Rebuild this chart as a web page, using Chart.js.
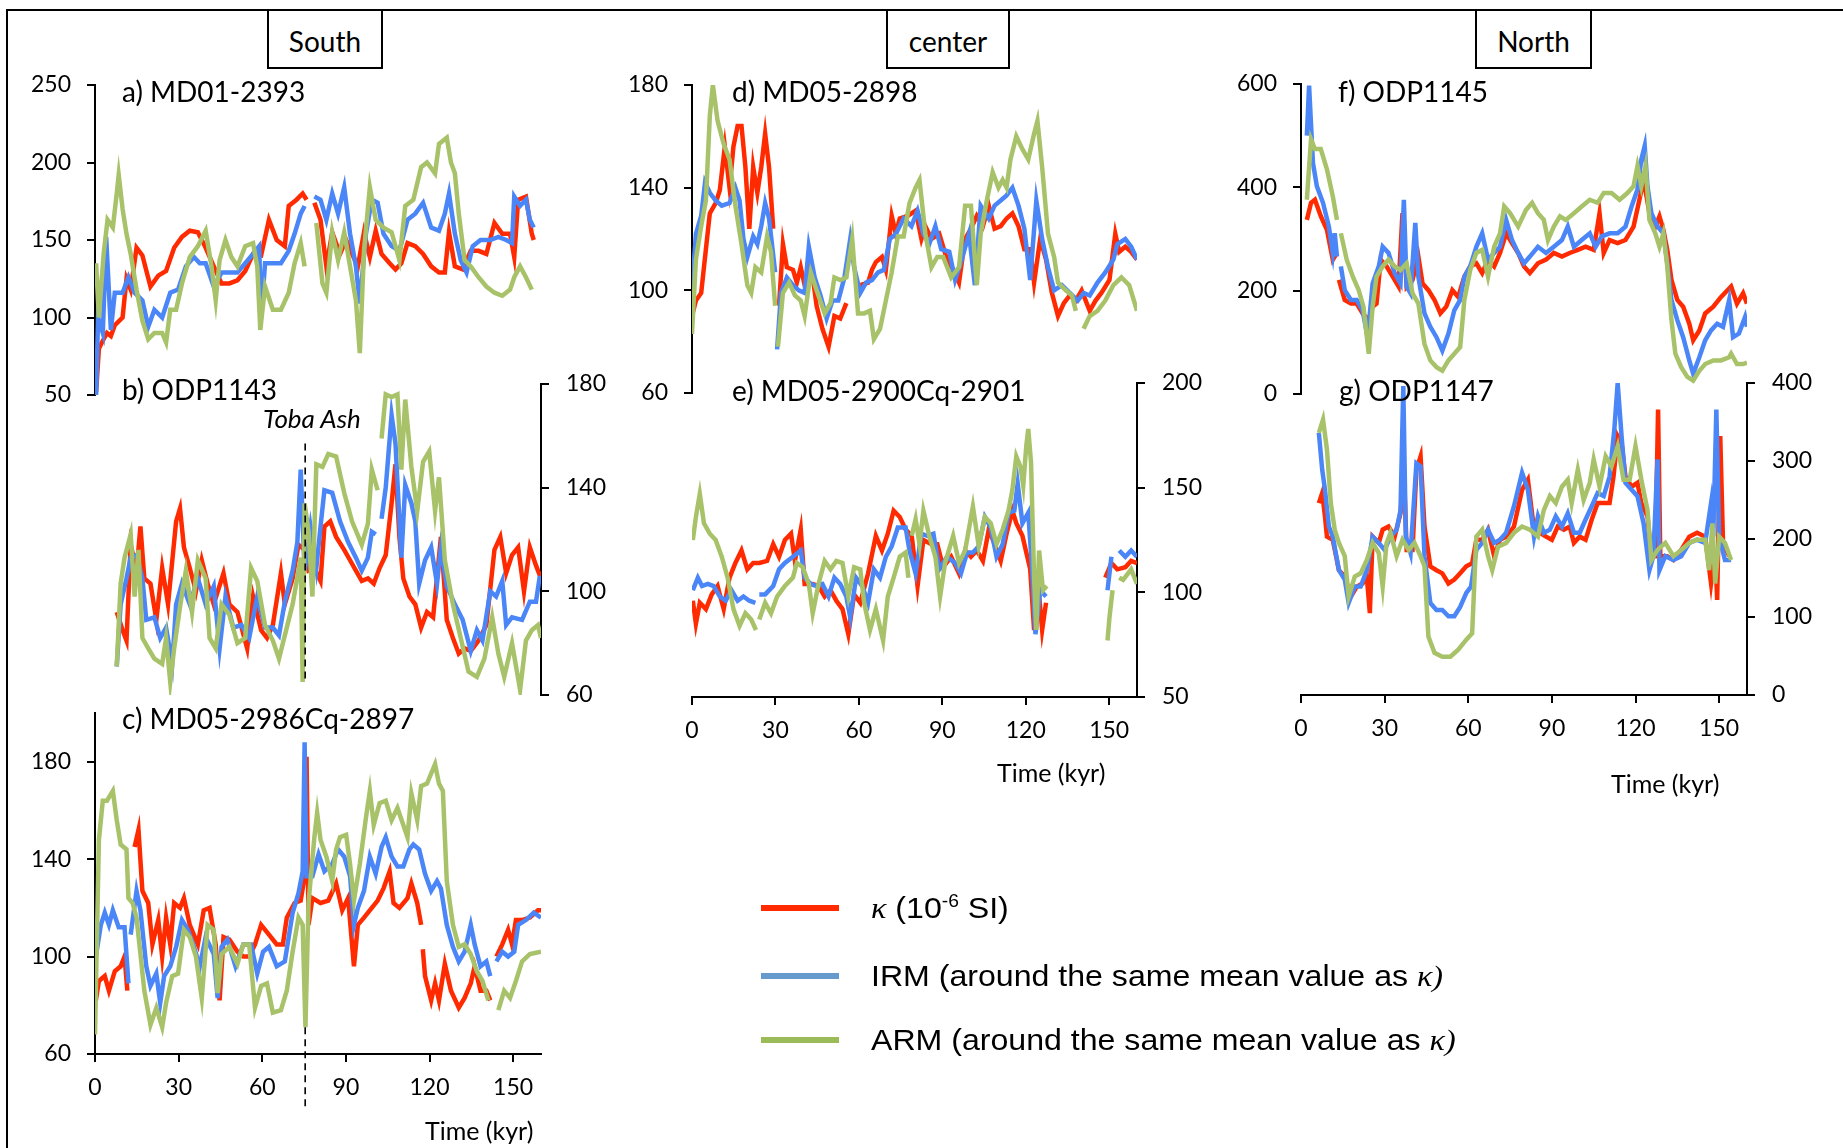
<!DOCTYPE html>
<html lang="en">
<head>
<meta charset="UTF-8">
<title>Magnetic records: South, center, North</title>
<script src="https://cdn.jsdelivr.net/npm/chart.js"></script>
<style>
    body { margin: 0; background: #fff; width: 1843px; height: 1148px; overflow: hidden; position: relative; font-family: Lato, 'Open Sans', sans-serif; color: #000; }
    canvas { position: absolute; left: 0; top: 0; }
    .frame { position: absolute; left: 6px; top: 9px; width: 1900px; height: 1200px; border: 2px solid #000; box-sizing: border-box; }
    .region { position: absolute; top: 9px; height: 60px; border: 2px solid #000; box-sizing: border-box; font-size: 28px; display: flex; align-items: center; justify-content: center; background: #fff; padding-top: 4px; }
    .lbl { position: absolute; white-space: nowrap; line-height: 1; transform: translateY(-50%); }
    .title { font-size: 28px; }
    .axis-title { font-size: 25px; }
    .toba { font-size: 26px; font-style: italic; }
    .legend-row { position: absolute; left: 761px; height: 0; }
    .legend-row .sw { position: absolute; left: 0; top: -3px; width: 78px; height: 6px; }
    .legend-row .txt { position: absolute; left: 110px; top: 0; transform: translateY(-50%) scaleX(1.07); transform-origin: left center; white-space: nowrap; font-size: 30px; line-height: 1; font-family: 'Liberation Sans', Arial, sans-serif; }
    .k { font-family: 'Liberation Serif', serif; font-style: italic; }
    sup { font-size: 60%; vertical-align: 0.6em; line-height: 0; }
</style>
</head>
<body>
<div class="frame"></div>

<div class="region" style="left:267px;width:116px">South</div>
<div class="region" style="left:886px;width:124px">center</div>
<div class="region" style="left:1475px;width:117px">North</div>

<canvas id="pa" width="1843" height="1148"></canvas>
<canvas id="pb" width="1843" height="1148"></canvas>
<canvas id="pc" width="1843" height="1148"></canvas>
<canvas id="pd" width="1843" height="1148"></canvas>
<canvas id="pe" width="1843" height="1148"></canvas>
<canvas id="pf" width="1843" height="1148"></canvas>
<canvas id="pg" width="1843" height="1148"></canvas>

<div class="lbl title" style="left:122px;top:91px">a) MD01-2393</div>
<div class="lbl title" style="left:122px;top:389px">b) ODP1143</div>
<div class="lbl title" style="left:122px;top:718px">c) MD05-2986Cq-2897</div>
<div class="lbl title" style="left:732px;top:91px">d) MD05-2898</div>
<div class="lbl title" style="left:732px;top:390px">e) MD05-2900Cq-2901</div>
<div class="lbl title" style="left:1338px;top:91px">f) ODP1145</div>
<div class="lbl title" style="left:1339px;top:390px">g) ODP1147</div>
<div class="lbl toba" style="left:263px;top:418px">Toba Ash</div>
<div class="lbl axis-title" style="left:425px;top:1130px">Time (kyr)</div>
<div class="lbl axis-title" style="left:997px;top:772px">Time (kyr)</div>
<div class="lbl axis-title" style="left:1611px;top:783px">Time (kyr)</div>

<div class="legend-row" style="top:908px"><div class="sw" style="background:#ff2a00"></div><div class="txt"><span class="k">κ</span> (10<sup>-6</sup> SI)</div></div>
<div class="legend-row" style="top:976px"><div class="sw" style="background:#6699cc"></div><div class="txt">IRM (around the same mean value as <span class="k">κ)</span></div></div>
<div class="legend-row" style="top:1040px"><div class="sw" style="background:#9bbb59"></div><div class="txt">ARM (around the same mean value as <span class="k">κ)</span></div></div>

<script>
// ---- data: [time kyr, value], null = gap ----
const xTicks = [0, 30, 60, 90, 120, 150];

// a) MD01-2393
const aK = [[0.4,52],[1.4,80],[2.8,85],[4.3,90],[5.7,88],[7.1,95],[9.9,100],[11.3,125],[12.8,118],[14.9,145],[17,140],[19.9,120],[22.7,127],[25.5,130],[28.4,145],[31.2,152],[34,156],[36.9,155],[39.7,145],[42.6,133],[45.4,122],[48.2,122],[51.1,124],[53.9,130],[56.7,141],[59.6,140],[62.4,163],[65.2,150],[68.1,146],[69.5,172],[72.3,176],[74.5,180],[75.9,176],[77,null],[78.7,174],[80.9,163],[83,133],[85.1,155],[87.9,141],[90.1,150],[92.2,141],[94.3,133],[96.5,155],[98.6,139],[100.7,156],[102.8,141],[105.7,135],[107.8,131],[109.9,135],[112.1,148],[114.9,146],[117.7,141],[120.6,133],[123.4,129],[125.5,129],[127,155],[129.1,133],[131.9,131],[134.8,143],[137.6,143],[140.4,141],[143.3,161],[146.1,154],[148.9,154],[150.4,139],[151.8,176],[154.6,178],[156.7,154],[157.4,150]];
const aI = [[0.4,50],[1.1,100],[2.8,90],[4,152],[5.7,92],[7.1,116],[9.9,116],[12,126],[14.2,116],[17,111],[19.1,94],[21.3,105],[24.1,100],[27,116],[29.8,118],[32.6,133],[35.5,139],[37.6,135],[39.7,135],[42.6,120],[45.4,129],[48.2,129],[51.1,129],[53.9,135],[56.7,141],[58.9,146],[59.6,100],[61,135],[63.8,135],[66.7,135],[69.5,143],[71.6,154],[73.8,167],[75.2,172],[77,null],[78.7,178],[80.9,176],[83,163],[85.1,180],[87.2,167],[89.4,184],[91.5,154],[93.6,133],[95,109],[97.2,154],[99.3,176],[101.4,174],[103.5,154],[106.4,146],[109.2,143],[112.1,163],[114.9,167],[117.7,174],[120.6,158],[123.4,156],[125.5,167],[127,180],[129.1,154],[131.2,137],[133.3,129],[135.5,146],[138.3,150],[141.8,150],[144.7,152],[147.5,150],[149.6,148],[150.4,178],[152.5,172],[154.6,176],[156,163],[157.4,158]];
const aA = [[0.4,135],[1.4,100],[3.1,141],[4.5,163],[6.4,158],[7.8,180],[8.5,192],[9.9,170],[11.3,154],[12.8,141],[14.9,118],[17,98],[19.1,86],[21.3,90],[24.1,90],[25.5,84],[27,105],[29.1,105],[31.2,122],[34,139],[36.9,146],[39.7,156],[41.8,133],[43.3,111],[44.7,137],[46.8,150],[48.9,139],[51.1,133],[53.9,146],[56.7,148],[58.2,133],[59.3,92],[61,120],[63.8,105],[66.7,105],[69.5,116],[71.6,135],[73.8,148],[75.2,133],[77,null],[79.4,161],[81.6,122],[83,116],[85.1,155],[87.2,137],[89.4,155],[91.5,133],[93.6,111],[95,77],[96.5,143],[98.6,184],[100.7,163],[103.5,158],[106.4,155],[109.2,137],[111.3,172],[114.2,176],[117,197],[119.1,200],[122,193],[123.4,212],[126.2,216],[127.7,200],[129.1,193],[130.5,167],[132.6,137],[134.8,133],[137.6,126],[140.4,120],[143.3,116],[146.1,114],[148.9,118],[150.4,126],[152.5,133],[154.6,126],[156.7,118]];

// b) ODP1143
const bK = [[7.8,92],[9.9,85],[11.3,81],[12.8,118],[14.9,108],[16.3,125],[17.7,105],[19.9,103],[22,89],[24.1,109],[26.2,95],[29.1,127],[30.5,132],[31.9,117],[34,109],[36.2,100],[38.3,112],[40.4,103],[42.6,95],[46.1,107],[48.2,95],[51.1,92],[54.6,78],[56.7,98],[59.6,85],[61.7,82],[63.8,87],[66.7,107],[68.1,95],[70.9,105],[73,118],[75.2,116],[76.6,108],[78.7,109],[80.9,104],[82.3,125],[84.4,127],[86.5,121],[89.4,116],[91.5,112],[93.6,108],[95.7,104],[97.9,105],[100,103],[102.1,109],[104.3,114],[106.4,134],[107.8,149],[109.2,121],[110.6,105],[112.8,98],[114.9,95],[117,86],[119.1,92],[121.3,90],[124.1,121],[126.2,89],[128.4,82],[130.5,76],[132.6,78],[134.8,77],[137.6,81],[140.4,87],[143.3,116],[145.4,121],[147.5,107],[149.6,114],[151.8,117],[153.9,100],[156,117],[158.2,110],[160,105]];
const bI = [[7.8,71],[9.2,95],[11.3,105],[12.8,113],[14.9,114],[17,105],[18.4,89],[21.3,90],[23.4,82],[25.5,86],[27.7,72],[29.1,95],[31.2,103],[34,95],[36.9,105],[39.7,95],[42.6,102],[44.7,78],[46.8,98],[49.6,86],[52.5,87],[55.3,82],[58.2,98],[61,86],[63.8,86],[66,83],[68.1,96],[70.9,108],[72.6,119],[73.8,147],[75.2,108],[77.3,125],[79.4,109],[81.1,127],[82.3,139],[85.1,138],[87.9,127],[90.8,119],[93.6,113],[95.7,108],[97.9,113],[99.3,123],[100.7,122],[101.8,null],[102.8,128],[104.3,140],[106.4,168],[107.8,157],[109.9,113],[111.3,141],[113.5,134],[114.9,127],[116.3,103],[118.4,112],[120.6,117],[122.7,103],[124.1,117],[126.2,102],[129.1,95],[131.9,89],[134.8,77],[137,85],[139,81],[141.8,100],[143.9,98],[146.1,104],[147.5,87],[149.6,90],[153.2,89],[156,96],[158.2,96],[159.6,106]];
const bA = [[7.8,71],[9.2,103],[10.6,113],[12.8,122],[14.2,98],[15.6,116],[17,82],[19.1,78],[21.3,74],[24.1,72],[25.5,82],[27,65],[28.4,78],[30.5,94],[32.6,108],[34.8,92],[36.9,112],[39.7,105],[41.1,82],[43.3,78],[45.4,95],[48.2,91],[51.1,80],[53.9,82],[56,109],[58.2,104],[61,87],[63.8,81],[66,74],[68.1,83],[70.9,95],[73.8,113],[74.5,65],[75.2,134],[76.6,123],[78,98],[79.4,149],[81.6,148],[83.7,153],[86.5,152],[89.4,138],[92.2,127],[95.7,118],[97.9,126],[99.3,147],[101.4,139],[102.1,null],[102.8,159],[104.3,176],[106.4,175],[108.5,176],[109.9,147],[111.3,174],[113.5,148],[115.6,131],[117.7,150],[119.9,154],[122,131],[123.4,144],[125.5,112],[128.4,95],[131.2,82],[134,69],[137,67],[139.7,74],[142.5,90],[144.7,76],[146.8,67],[149.6,80],[152.5,62],[154.6,81],[156.7,85],[158.9,87],[160,82]];

// c) MD05-2986Cq-2897
const cK = [[0.3,82],[1.4,90],[3.5,92],[5,86],[7.1,94],[9.2,96],[10.6,100],[11.6,86],[12.5,null],[14.2,145],[15.6,152],[17,127],[19.1,122],[20.6,105],[22.7,115],[24.1,100],[25.5,116],[27,105],[28.4,122],[30.5,120],[31.9,124],[34,113],[36.9,105],[39,119],[41.1,120],[43.3,105],[44.7,82],[46.1,108],[48.2,107],[51.1,102],[53.2,100],[55.3,100],[57.4,105],[59.6,113],[62.4,109],[65.2,105],[67.4,105],[68.8,116],[71.6,122],[73.8,123],[75.2,133],[75.9,182],[76.6,113],[78,124],[80.9,122],[83.7,123],[86.5,130],[88.7,119],[90.8,124],[92.9,96],[94.3,113],[96.5,116],[99.3,120],[101.4,123],[103.5,128],[105.7,135],[107.1,122],[109.2,120],[112.1,124],[113.5,130],[115.6,122],[117,113],[117.3,null],[117.6,103],[118.4,92],[120.6,82],[122,89],[123.4,82],[125.5,97],[127.7,86],[130.5,79],[132.6,83],[134.8,89],[136.2,96],[138.3,86],[140.4,86],[141.8,82],[143,null],[144,100],[146.1,105],[148.2,111],[149.6,105],[151,115],[153.2,115],[156,116],[158.9,119],[160,119]];
const cI = [[0.3,100],[2.1,113],[3.5,118],[5,113],[6.4,119],[8.5,112],[10.6,112],[12,89],[12.4,null],[12.8,109],[14.9,127],[16.3,119],[18.4,96],[19.9,88],[22,93],[23.4,81],[24.8,92],[27,96],[29.1,104],[31.2,115],[33.3,111],[35.5,104],[37.6,96],[39.7,108],[42.6,101],[44,83],[45.4,104],[47.5,107],[50.4,96],[53.2,105],[56,105],[58.2,93],[60.3,102],[62.4,104],[65.2,96],[68.1,98],[70.9,118],[73,126],[74.5,135],[75.2,188],[75.9,133],[78,133],[80.2,142],[82.3,135],[85.1,138],[87.2,144],[89.4,141],[91.5,133],[92.9,113],[94.3,120],[96.5,127],[98.6,141],[100.7,134],[102.8,145],[104.3,149],[106.4,141],[108.5,137],[110.6,137],[112.8,144],[114.2,146],[116.3,144],[118.4,134],[120.6,127],[122.7,131],[124.1,128],[126.2,113],[128.4,104],[130.5,98],[132.6,102],[134.8,113],[136.2,105],[138.3,96],[140.4,98],[141.8,92],[143,null],[144,98],[146.1,102],[148.2,100],[150.4,102],[151.8,113],[154.6,115],[157.4,118],[160,116]];
const cA = [[0,68],[1.4,148],[2.8,164],[4.3,164],[6.4,168],[7.8,156],[9.2,146],[11.3,144],[12,124],[13.5,122],[14.9,116],[16.3,101],[17.7,86],[19.9,72],[22,79],[24.1,71],[25.5,81],[27.7,92],[29.8,93],[31.9,111],[34,108],[36.2,100],[38.3,83],[40.4,113],[42.6,111],[44,85],[45.4,101],[48.2,104],[51.1,97],[53.2,105],[55.3,105],[57.4,79],[59.6,88],[61.7,89],[63.8,77],[66.7,78],[68.8,86],[70.9,102],[73,116],[74.5,113],[75.5,71],[76.6,122],[78.7,149],[79.7,159],[80.9,148],[83,141],[85.1,131],[86.5,144],[87.9,149],[90.1,150],[91.5,138],[92.9,123],[95,138],[97.2,157],[98.6,168],[100,154],[102.1,163],[104.3,164],[106.4,156],[108.5,161],[110.6,154],[112.1,149],[113.5,167],[115.6,156],[117,170],[119.1,171],[122,179],[123.4,171],[124.8,168],[126.2,131],[128.4,113],[130.5,104],[132.6,105],[134.8,101],[137,94],[139,90],[141.1,82],[143,null],[144.7,78],[146.8,86],[148.9,83],[151,90],[153.2,98],[156,101],[160,102]];

// d) MD05-2898
const dK = [[0,90],[1.4,96],[3.3,99],[5,116],[6.4,130],[8.5,134],[10,139],[11.8,156],[13.5,140],[14.9,156],[16.4,164],[17.8,164],[19.2,148],[20.6,124],[22,148],[23.5,138],[24.9,148],[26.3,161],[27.7,148],[29.2,124],[30.2,null],[31.3,94],[32.7,118],[34.1,109],[36.3,108],[37.7,103],[39.1,109],[40.5,102],[42.7,111],[44.8,94],[46.9,85],[49.1,78],[51.2,90],[53.3,89],[55.5,95],[58,null],[60.5,102],[63.3,103],[64.7,108],[66.1,111],[68.3,113],[69.7,108],[71.8,129],[73.3,122],[74.7,128],[77.5,129],[80.4,131],[82.5,120],[83.9,125],[86.1,120],[88.9,122],[91.7,112],[93.9,108],[96,103],[98.2,120],[100.3,124],[102.4,129],[104.6,125],[106.7,133],[108.8,124],[111,125],[113.1,128],[115.2,130],[117.4,125],[119.5,116],[121.6,116],[123,103],[125.2,120],[127.3,112],[129.4,99],[131.6,90],[133.7,95],[135.8,98],[138,96],[140.1,100],[143,92],[145.1,96],[147.2,99],[150.1,104],[152.2,122],[153.6,115],[155.8,117],[157.9,115],[160,112]];
const dI = [[0,100],[1.4,122],[3.3,129],[4.7,142],[6.4,138],[8.5,135],[10.7,133],[13.5,134],[15.6,140],[17.1,135],[18.5,120],[19.9,113],[22,121],[23.5,118],[24.9,125],[26.3,134],[27.7,128],[29.9,107],[30.2,null],[30.6,77],[32,99],[34.1,105],[36.3,102],[38.4,100],[40.5,99],[42,117],[44.1,105],[46.2,98],[48.4,89],[50.5,96],[52.6,96],[54.8,105],[56.9,120],[58.3,109],[60.5,99],[62.6,103],[64.7,104],[66.9,107],[69,108],[71.1,120],[73.3,122],[76.1,128],[78.9,125],[81.1,131],[83.2,122],[85.3,118],[87.5,125],[89.6,116],[92.5,115],[94.6,104],[96.7,111],[99.6,122],[101.7,102],[103.8,133],[106.7,128],[108.8,133],[111,135],[113.1,137],[115.2,140],[117.4,133],[119.5,124],[121.6,104],[123.8,135],[125.9,120],[128,109],[130.2,100],[133,102],[135.8,99],[138.7,96],[140.8,99],[143,98],[145.8,103],[148.6,107],[151.5,112],[152.9,118],[155.8,120],[157.9,117],[160,112]];
const dA = [[0,83],[1.4,112],[3.3,125],[5,135],[6.4,168],[7.5,180],[9.2,166],[11.4,157],[13.5,151],[15.6,133],[17.8,118],[19.9,102],[21.3,99],[22.8,109],[24.9,107],[27,121],[28.4,115],[29.9,94],[30.4,null],[30.9,78],[32.7,99],[34.9,103],[37,98],[39.1,96],[40.5,90],[42.7,107],[44.8,100],[47.7,91],[49.8,95],[51.2,105],[53.3,104],[55.5,105],[57.6,120],[59.7,91],[61.9,91],[64,92],[65.4,81],[67.6,85],[69.7,96],[71.8,107],[74,121],[76.1,121],[78.2,134],[80.4,140],[81.8,143],[83.9,122],[86.1,109],[88.2,113],[90.3,113],[93.2,105],[96,109],[98.2,133],[100.3,133],[102.4,102],[103.8,122],[106,135],[108.1,146],[110.2,140],[111.7,143],[113.1,140],[114.5,151],[116.6,160],[118.8,155],[120.9,151],[123,161],[124.2,166],[125.9,148],[128,122],[130.2,113],[131.6,103],[134.4,100],[136.6,98],[138,92],[139.4,null],[140.8,85],[143,90],[145.8,92],[148.6,96],[151.5,102],[154.4,105],[157.2,102],[160,92]];

// e) MD05-2900Cq-2901
const eK = [[0.3,96],[1.4,85],[2.8,95],[5,92],[7.1,99],[9.2,103],[11.4,92],[13.5,107],[15.6,114],[17.8,120],[19.9,111],[22,114],[24.2,114],[27,115],[29.2,123],[31.3,117],[33.4,125],[35.6,128],[37,115],[39.1,130],[40.5,104],[43.4,104],[45.5,103],[47.7,98],[49.8,101],[51.9,96],[54.1,92],[56.2,80],[58.3,99],[60.5,95],[63.3,109],[66.1,127],[68.3,120],[70.4,128],[72.5,139],[74.7,136],[76.8,130],[79,127],[81.1,103],[83.2,125],[86.1,123],[88.2,123],[90.3,112],[93.2,117],[96,109],[98.2,120],[100.3,117],[102.4,120],[104.6,115],[106.7,130],[108.8,123],[111,115],[113.1,128],[115.2,139],[116.6,133],[118.8,127],[121.6,111],[123,82],[124.5,103],[125.9,82],[127.3,95],[138,null],[148.6,107],[150.8,114],[152.9,111],[155.8,112],[157.9,115],[160,114]];
const eI = [[0.3,101],[2.1,107],[3.6,103],[5.7,104],[7.8,103],[10,98],[12.1,96],[14.2,101],[16.4,96],[18.5,98],[20.6,96],[22.8,95],[23.5,null],[24.2,99],[26.3,99],[29.2,103],[31.3,111],[33.4,114],[36.3,117],[39.1,120],[40.5,107],[42.7,104],[44.8,103],[46.9,104],[49.1,98],[51.2,107],[53.3,104],[55.5,98],[56.9,88],[59,107],[61.2,103],[63.3,95],[65.4,111],[67.6,107],[69.7,117],[71.8,122],[74,131],[76.8,131],[78.2,120],[80.4,109],[82.5,128],[84.6,127],[86.8,128],[88.9,111],[91.7,117],[94.6,114],[96.7,109],[98.9,119],[101,119],[103.1,122],[105.3,136],[107.4,131],[109.5,117],[111.7,123],[113.8,138],[115.9,139],[117.1,152],[118.8,133],[120.9,138],[122.3,111],[123.5,80],[125.2,101],[127.3,98],[138,null],[149.4,101],[150.8,117],[152,null],[153.6,120],[155.8,117],[157.9,120],[160,117]];
const eA = [[0.3,125],[1.4,136],[2.8,147],[4.3,133],[6.4,128],[8.5,125],[10.7,117],[12.8,107],[14.9,92],[17.1,84],[19.2,90],[21.3,87],[23,82],[23.6,null],[24.2,87],[26.3,95],[28.4,90],[30.6,98],[33.4,103],[36.3,107],[37.7,114],[39.8,112],[42,104],[43.4,90],[45.5,104],[47.7,115],[49.8,111],[51.9,115],[54.1,114],[56.2,98],[58.3,112],[60.5,111],[61.9,95],[64,82],[66.1,92],[68.7,77],[70.4,98],[72.5,107],[74.7,117],[76.8,119],[77.8,107],[78.4,null],[79,127],[80.4,135],[81.8,123],[83.2,139],[85.3,127],[87.5,117],[89.2,98],[91,114],[93.9,127],[96,114],[98.2,120],[101,141],[103.1,122],[105.3,136],[107.4,133],[109.5,123],[111.7,130],[113.8,139],[115.2,149],[116.6,165],[118.1,160],[119.1,151],[120.2,170],[120.9,178],[121.9,162],[123,107],[123.8,82],[124.8,120],[126.2,101],[127.6,103],[138,null],[149.4,77],[150.1,88],[151.2,101],[152.4,null],[153.6,107],[155,106],[157.9,111],[160,104]];

// f) ODP1145
const fK = [[2.1,337],[3.6,370],[5,376],[7.1,344],[9.3,318],[11.4,260],[12.9,273],[13.2,null],[13.6,221],[15.7,182],[17.9,175],[20,175],[22.1,156],[24.3,143],[25.7,169],[27.1,175],[28.6,260],[30.7,247],[32.9,227],[35,208],[36.4,350],[37.9,208],[40,221],[42.1,266],[43.6,214],[45.7,201],[47.9,182],[50,156],[52.1,169],[54.3,201],[56.4,188],[58.6,227],[60.7,247],[62.9,253],[65,234],[67.1,260],[69.3,247],[71.4,273],[73.6,311],[75.7,292],[77.9,273],[80,247],[82.1,234],[85,253],[87.9,260],[90.7,273],[93.6,266],[96.4,273],[99.3,279],[102.1,285],[105,279],[107.1,350],[108.6,273],[110.7,298],[113.6,292],[116.4,298],[119.3,324],[121.4,376],[122.9,415],[125,350],[127.1,324],[128.6,344],[130,318],[131.4,279],[132.9,221],[135,182],[137.1,169],[139.3,136],[140.7,104],[142.9,123],[145,156],[147.9,169],[150.7,188],[154.3,208],[156.4,175],[158.6,195],[160,175]];
const fI = [[2.1,500],[2.9,597],[4.3,447],[5.7,402],[7.9,370],[10,324],[11.4,273],[12.1,311],[12.9,266],[13.6,null],[14.3,247],[15.7,201],[17.9,182],[20,182],[22.1,162],[23.9,110],[25.7,214],[27.9,247],[29.3,285],[31.4,273],[33.6,234],[35.7,214],[36.9,376],[37.9,208],[39.3,195],[41,331],[42.1,227],[44.3,156],[46.4,130],[48.6,110],[50.7,84],[52.9,117],[55,162],[57.1,182],[58.6,227],[60.7,247],[62.9,285],[65,311],[67.1,260],[69.3,273],[71.4,285],[73.6,337],[75.7,298],[77.9,273],[80,253],[82.1,266],[85,285],[87.9,273],[90.7,285],[93.6,298],[95.7,324],[97.9,285],[100.7,298],[103.6,311],[105.7,285],[107.9,305],[110.7,311],[113.6,311],[116.4,324],[118.6,363],[120.7,396],[122.1,454],[123.3,480],[124.3,402],[125.7,350],[127.9,324],[130,311],[131.4,253],[132.9,182],[135,143],[137.1,110],[139.3,65],[140.7,39],[142.9,71],[145,104],[147.1,123],[149.3,136],[151.4,130],[153.6,182],[155,110],[157.1,117],[159.3,149],[160,130]];
const fA = [[2.1,376],[3.6,493],[5,474],[7.1,474],[9.3,435],[11.4,383],[12.9,337],[13.6,null],[14.3,311],[16.4,260],[18.6,227],[20.7,201],[22.4,169],[24.3,78],[25.7,169],[27.1,227],[29.3,247],[31.4,260],[33.6,247],[35.7,240],[37.9,253],[40,195],[42.1,175],[44.3,97],[46.4,65],[48.6,52],[50.7,45],[52.9,65],[55,78],[57.1,91],[58.6,182],[60.7,240],[62.9,273],[65,279],[67.1,227],[69.3,285],[71.4,311],[72.9,363],[75,350],[77.9,324],[80.7,356],[82.9,370],[85,350],[87.1,337],[88.6,298],[90.7,324],[92.9,344],[95,337],[97.9,350],[100.7,363],[103.6,376],[106.4,370],[108.6,389],[111.4,389],[114.3,376],[117.1,389],[119.3,402],[120.7,441],[122.1,402],[123.6,441],[125,337],[127.1,311],[128.6,285],[130,311],[131.4,247],[132.9,143],[134.3,78],[136.4,52],[138.6,33],[140.7,26],[142.9,45],[145,58],[147.9,65],[150.7,65],[153.6,71],[154.3,78],[156.4,58],[158.6,58],[160,61]];

// g) ODP1147
const gK = [[6.4,246],[7.6,259],[8.6,229],[9.3,203],[11.4,199],[13.6,160],[15.7,152],[17.9,126],[20,139],[22.1,143],[23.6,152],[24.7,105],[25.7,203],[27.9,195],[29.3,212],[31.4,216],[33.6,203],[35.7,233],[36.9,289],[37.9,186],[40,186],[41.4,289],[42.9,306],[44.3,216],[46.4,165],[48.6,160],[50.7,156],[52.9,143],[55,148],[57.1,156],[59.3,165],[61.4,169],[62.9,199],[65,199],[67.1,212],[69.3,178],[71.4,199],[73.6,203],[76.4,216],[79.3,263],[81.4,276],[83.6,212],[85.7,208],[87.9,203],[90,199],[92.1,216],[94.3,212],[96.4,216],[97.9,195],[100,203],[102.1,199],[104.3,225],[106.4,246],[108.6,246],[110.7,246],[112.1,280],[113.6,332],[115,323],[116.4,280],[118.6,267],[120.7,272],[122.1,246],[124.3,229],[125.7,178],[127.1,178],[128.1,366],[128.9,178],[131.4,178],[133.6,173],[136.4,186],[139.3,203],[142.1,208],[145,203],[147.1,143],[148.6,186],[149.3,122],[150.4,332],[151.4,195],[153.6,178]];
const gI = [[6.4,336],[7.6,289],[8.6,263],[10,216],[11.4,203],[13.6,160],[15.7,148],[17.1,118],[19.3,139],[21.4,139],[23.6,160],[25.7,203],[27.9,195],[30,186],[32.1,203],[34.3,212],[35.7,237],[36.7,396],[37.6,203],[39.3,182],[41.4,297],[42.9,293],[44.3,178],[46.4,118],[48.6,109],[50.7,109],[52.9,101],[55,101],[57.1,113],[59.3,131],[61,139],[62.9,186],[65,195],[67.1,212],[69.3,195],[71.4,199],[73.6,208],[76.4,242],[79.3,285],[81.4,263],[83.6,203],[85,229],[87.1,208],[89.3,212],[91.4,229],[93.6,216],[95.7,233],[97.9,208],[100,208],[102.1,225],[104.3,242],[106.4,259],[108.6,255],[110.7,280],[112.4,340],[113.6,400],[115,332],[116.4,272],[118.6,263],[120.7,255],[122.9,220],[125,160],[126.4,178],[127.9,302],[128.6,160],[130.7,178],[133.6,173],[136.4,178],[139.3,195],[142.1,199],[145,195],[147.1,246],[147.9,203],[149,366],[150,203],[152.1,173],[154.3,173]];
const gA = [[6.4,336],[7.9,353],[9.3,315],[10.7,246],[12.1,212],[13.6,195],[15.7,178],[17.1,126],[19.3,152],[21.4,156],[23.6,173],[25.7,195],[27.9,182],[29.3,139],[30.7,195],[32.1,208],[34.3,178],[36.4,199],[38.6,186],[40.7,195],[42.9,178],[44.3,165],[45.7,75],[47.9,54],[50.7,49],[53.6,49],[56.4,58],[59.3,71],[61.4,79],[62.9,203],[65,212],[67.1,178],[68.6,160],[70.7,190],[73.6,195],[76.4,208],[79.3,216],[82.1,212],[85,203],[87.1,237],[89.3,255],[91.4,246],[93.6,267],[95.7,276],[97.1,246],[99.3,289],[101.4,250],[103.6,272],[105,302],[107.1,267],[109.3,306],[111.4,293],[113.6,319],[115.7,276],[117.9,276],[120,319],[122.1,276],[124.3,237],[125.7,173],[127.9,186],[130.7,195],[133.6,178],[136.4,186],[139.3,195],[142.1,199],[145,199],[146.4,160],[147.6,220],[148.6,143],[150,203],[152.1,195],[154.3,173]];

// Toba Ash marker (kyr)
const tobaAge = 75.4;

// ---- drawing ----
const FONT = "Lato, 'Open Sans', sans-serif";
const RED = '#ff2a00', BLUE = '#4a86f8', GREEN = '#a8c26a';
const W = 1843, H = 1148;
const AXIS_W = 80, AXIS_H = 60;

function toXY(pairs) {
    return pairs.map(p => ({ x: p[0], y: p[1] }));
}

function series(pairs, color, order) {
    return { data: toXY(pairs), borderColor: color, borderWidth: 4.5, pointRadius: 0, tension: 0, spanGaps: false, order: order };
}

function makePanel(id, p) {
    const datasets = [series(p.k, RED, 3), series(p.i, BLUE, 2), series(p.a, GREEN, 1)];
    if (p.dash) {
        datasets.push({ data: toXY(p.dash), borderColor: '#000', borderWidth: 1.6, borderDash: [7, 5], pointRadius: 0, clip: false, order: 0 });
    }
    const pad = {
        left: p.side === 'left' ? p.area.l - AXIS_W : p.area.l,
        right: p.side === 'right' ? W - p.area.r - AXIS_W : W - p.area.r,
        top: p.area.t,
        bottom: p.showX ? H - p.area.b - AXIS_H : H - p.area.b
    };
    const grid = { drawOnChartArea: false, drawTicks: true, tickLength: 8, color: '#000', lineWidth: 2 };
    const border = { display: true, color: '#000', width: 2 };
    new Chart(document.getElementById(id), {
        type: 'line',
        data: { datasets: datasets },
        options: {
            responsive: false,
            devicePixelRatio: 1,
            animation: false,
            events: [],
            layout: { padding: pad },
            plugins: { legend: { display: false }, tooltip: { enabled: false } },
            scales: {
                x: {
                    type: 'linear', min: 0, max: 160, display: p.showX, grid: grid, border: border,
                    ticks: { color: '#000', font: { family: FONT, size: 23 }, padding: 12, maxRotation: 0 },
                    afterBuildTicks: s => { s.ticks = xTicks.map(v => ({ value: v })); },
                    afterFit: s => { s.height = p.showX ? AXIS_H : 0; }
                },
                y: {
                    type: 'linear', position: p.side, min: p.min, max: p.max, grid: grid, border: border,
                    ticks: { color: '#000', font: { family: FONT, size: 23 }, padding: p.side === 'left' ? 16 : 17 },
                    afterBuildTicks: s => { s.ticks = p.yTicks.map(v => ({ value: v })); },
                    afterFit: s => { s.width = AXIS_W; }
                }
            }
        }
    });
}

makePanel('pa', { k: aK, i: aI, a: aA, side: 'left', min: 50, max: 250, yTicks: [50, 100, 150, 200, 250], showX: false, area: { l: 95, r: 541, t: 85, b: 395 } });
makePanel('pb', { k: bK, i: bI, a: bA, side: 'right', min: 60, max: 180, yTicks: [60, 100, 140, 180], showX: false, area: { l: 95, r: 541, t: 384, b: 695 },
    dash: [[tobaAge, 157], [tobaAge, 65]] });
makePanel('pc', { k: cK, i: cI, a: cA, side: 'left', min: 60, max: 200, yTicks: [60, 100, 140, 180], showX: true, area: { l: 95, r: 541, t: 713, b: 1054 },
    dash: [[tobaAge, 71], [tobaAge, 38]] });
makePanel('pd', { k: dK, i: dI, a: dA, side: 'left', min: 60, max: 180, yTicks: [60, 100, 140, 180], showX: false, area: { l: 692, r: 1137, t: 85, b: 393 } });
makePanel('pe', { k: eK, i: eI, a: eA, side: 'right', min: 50, max: 200, yTicks: [50, 100, 150, 200], showX: true, area: { l: 692, r: 1137, t: 383, b: 697 } });
makePanel('pf', { k: fK, i: fI, a: fA, side: 'left', min: 0, max: 600, yTicks: [0, 200, 400, 600], showX: false, area: { l: 1301, r: 1747, t: 84, b: 394 } });
makePanel('pg', { k: gK, i: gI, a: gA, side: 'right', min: 0, max: 400, yTicks: [0, 100, 200, 300, 400], showX: true, area: { l: 1301, r: 1747, t: 383, b: 695 } });
</script>
</body>
</html>
